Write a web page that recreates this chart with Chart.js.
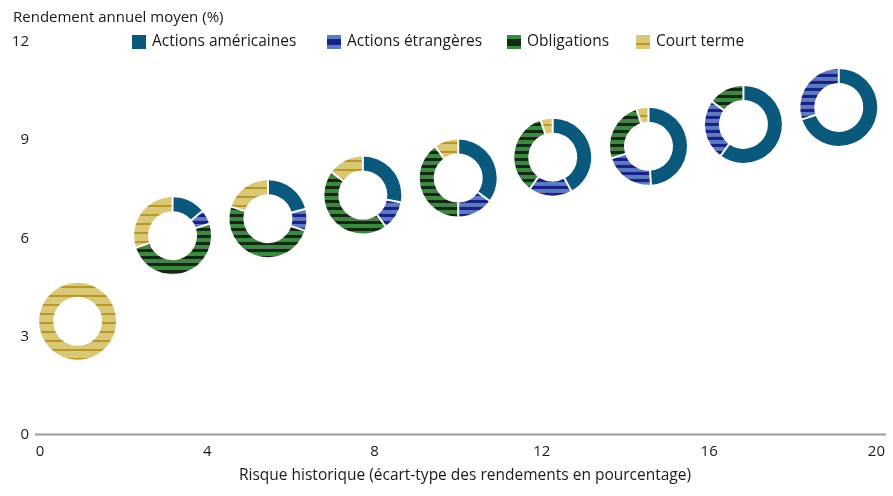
<!DOCTYPE html>
<html><head><meta charset="utf-8">
<script src="https://cdn.jsdelivr.net/npm/chart.js@4.4.1/dist/chart.umd.min.js"></script>
<style>html,body{margin:0;padding:0;background:#fff}#wrap{width:893px;height:496px;position:relative}</style>
</head><body><div id="wrap"><canvas id="c"></canvas></div>
<script>
// ---- Data ----
const categories = ['Actions américaines', 'Actions étrangères', 'Obligations', 'Court terme'];
const riskX   = [0.9, 3.17, 5.45, 7.72, 10.0, 12.26, 14.55, 16.82, 19.1];
const returnY = [3.46, 6.08, 6.6, 7.32, 7.84, 8.48, 8.81, 9.48, 10.0];
const usStocks      = [0, 14, 21, 28, 35, 42, 49, 60, 70];
const foreignStocks = [0, 6, 9, 12, 15, 18, 21, 25, 30];
const bonds         = [0, 50, 50, 45, 40, 35, 25, 15, 0];
const shortTerm     = [100, 30, 20, 15, 10, 5, 5, 0, 0];
const xTicks = [0, 4, 8, 12, 16, 20];
const yTicks = [0, 3, 6, 9, 12];
const yTitle = 'Rendement annuel moyen (%)';
const xTitle = 'Risque historique (écart-type des rendements en pourcentage)';

const FONT = '"Open Sans", sans-serif';
const TEXT = '#1a1a1a';
const R_OUT = 38.5, R_IN = 24.5;
const LEGEND_X = [132, 327, 507, 636];

function makeStripe(ctx, period, bands) {
  const c = document.createElement('canvas');
  c.width = 8; c.height = period;
  const g = c.getContext('2d');
  let y = 0;
  bands.forEach(([col, h]) => { g.fillStyle = col; g.fillRect(0, y, 8, h); y += h; });
  return ctx.createPattern(c, 'repeat');
}
let fills = null;
function getFills(ctx) {
  if (fills) return fills;
  fills = [
    '#0b587d',
    makeStripe(ctx, 7, [['#5a7cc3', 3.5], ['#1b2287', 3.5]]),
    makeStripe(ctx, 7, [['#3a893e', 3.5], ['#0f2c12', 3.5]]),
    makeStripe(ctx, 9, [['#dbc874', 7], ['#b8982c', 2]])
  ];
  return fills;
}

const donutPlugin = {
  id: 'donuts',
  afterDatasetsDraw(chart) {
    const ctx = chart.ctx;
    const meta = chart.getDatasetMeta(0);
    const f = getFills(ctx);
    const series = [usStocks, foreignStocks, bonds, shortTerm];
    ctx.save();
    meta.data.forEach((pt, i) => {
      const cx = pt.x, cy = pt.y;
      const total = series.reduce((s, arr) => s + arr[i], 0);
      let a = -Math.PI / 2;
      const bounds = [];
      series.forEach((arr, k) => {
        const v = arr[i];
        if (!v) return;
        const a1 = a + v / total * Math.PI * 2;
        ctx.beginPath();
        ctx.arc(cx, cy, R_OUT, a, a1);
        ctx.arc(cx, cy, R_IN, a1, a, true);
        ctx.closePath();
        ctx.fillStyle = f[k];
        ctx.fill();
        bounds.push(a);
        a = a1;
      });
      if (bounds.length > 1) {
        ctx.strokeStyle = '#ffffff';
        ctx.lineWidth = 2;
        bounds.forEach(b => {
          ctx.beginPath();
          ctx.moveTo(cx + Math.cos(b) * (R_IN - 1), cy + Math.sin(b) * (R_IN - 1));
          ctx.lineTo(cx + Math.cos(b) * (R_OUT + 1), cy + Math.sin(b) * (R_OUT + 1));
          ctx.stroke();
        });
      }
    });
    ctx.restore();
  },
  beforeDatasetsDraw(chart) {
    const ctx = chart.ctx;
    const y0 = chart.scales.y.getPixelForValue(0);
    ctx.save();
    ctx.strokeStyle = '#9b9b9b';
    ctx.lineWidth = 2;
    ctx.beginPath();
    ctx.moveTo(35, y0);
    ctx.lineTo(886, y0);
    ctx.stroke();
    ctx.restore();
  },
  afterDraw(chart) {
    const ctx = chart.ctx;
    const f = getFills(ctx);
    ctx.save();
    ctx.font = '15px ' + FONT;
    ctx.fillStyle = TEXT;
    ctx.textBaseline = 'middle';
    ctx.textAlign = 'left';
    ctx.fillText(yTitle, 13, 18);
    ctx.font = '15.5px ' + FONT;
    ctx.textAlign = 'center';
    ctx.fillText(xTitle, 465, 476);
    // legend
    ctx.textAlign = 'left';
    const ly = chart.scales.y.getPixelForValue(12);
    categories.forEach((name, k) => {
      const bx = LEGEND_X[k], by = ly - 7;
      if (k === 0) {
        ctx.fillStyle = f[0]; ctx.fillRect(bx, by, 14, 14);
      } else if (k === 1) {
        ctx.fillStyle = '#5a7cc3'; ctx.fillRect(bx, by, 14, 14);
        ctx.fillStyle = '#1b2287'; ctx.fillRect(bx, by + 4, 14, 6);
      } else if (k === 2) {
        ctx.fillStyle = '#3a893e'; ctx.fillRect(bx, by, 14, 14);
        ctx.fillStyle = '#0f2c12'; ctx.fillRect(bx, by + 4, 14, 7);
      } else {
        ctx.fillStyle = '#dbc874'; ctx.fillRect(bx, by, 14, 14);
        ctx.fillStyle = '#b8982c'; ctx.fillRect(bx, by + 8, 14, 2);
      }
      ctx.fillStyle = TEXT;
      ctx.fillText(name, bx + 20, ly);
    });
    ctx.restore();
  }
};

new Chart(document.getElementById('c'), {
  type: 'scatter',
  data: {
    datasets: [{
      label: 'Portefeuilles',
      data: riskX.map((x, i) => ({ x, y: returnY[i] })),
      pointRadius: 0,
      pointHoverRadius: 0
    }]
  },
  options: {
    responsive: true,
    maintainAspectRatio: false,
    animation: false,
    events: [],
    layout: { padding: { top: 42, right: 16, left: 0, bottom: 0 } },
    plugins: { legend: { display: false }, tooltip: { enabled: false } },
    scales: {
      x: {
        type: 'linear', min: 0, max: 20,
        afterBuildTicks: s => { s.ticks = xTicks.map(v => ({ value: v })); },
        afterFit: s => { s.height = 61.5; },
        grid: { display: false, drawTicks: false },
        border: { display: false },
        ticks: { padding: 8, font: { family: FONT, size: 15 }, color: TEXT, maxRotation: 0 }
      },
      y: {
        type: 'linear', min: 0, max: 12,
        afterBuildTicks: s => { s.ticks = yTicks.map(v => ({ value: v })); },
        afterFit: s => { s.width = 40; },
        grid: { display: false, drawTicks: false },
        border: { display: false },
        ticks: { padding: 11, font: { family: FONT, size: 15 }, color: TEXT }
      }
    }
  },
  plugins: [donutPlugin]
});
</script>
</body></html>
